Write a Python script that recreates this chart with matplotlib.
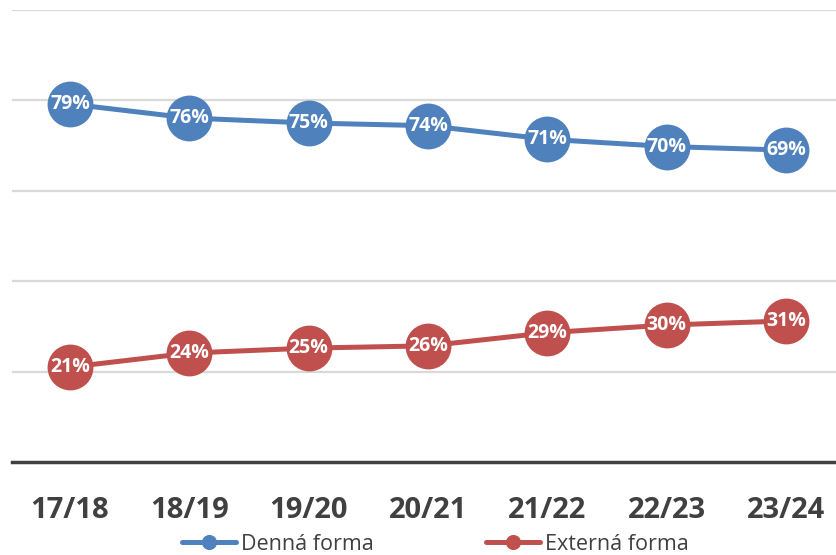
import matplotlib.pyplot as plt

plt.rcParams['font.family'] = ['Open Sans', 'DejaVu Sans']

YEARS = ['17/18', '18/19', '19/20', '20/21', '21/22', '22/23', '23/24']
DENNA = [79.2, 76.1, 75.0, 74.4, 71.4, 69.8, 69.0]
DENNA_LABELS = ['79%', '76%', '75%', '74%', '71%', '70%', '69%']
EXTERNA = [21.0, 24.1, 25.2, 25.7, 28.6, 30.3, 31.2]
EXTERNA_LABELS = ['21%', '24%', '25%', '26%', '29%', '30%', '31%']

BLUE = '#4F81BD'
RED = '#C0504D'
W, H = 837, 555

fig = plt.figure(figsize=(W / 100, H / 100), dpi=100)
ax = fig.add_axes([12 / W, (H - 462) / H, (W - 12) / W, 452 / H])

x = list(range(len(YEARS)))
for vals, labels, col, name in [(DENNA, DENNA_LABELS, BLUE, 'Denná forma'),
                                (EXTERNA, EXTERNA_LABELS, RED, 'Externá forma')]:
    ax.plot(x, vals, color=col, linewidth=3.6, marker='o', markersize=33,
            markeredgewidth=0, label=name, zorder=3, solid_capstyle='round')
    for xi, yi, lbl in zip(x, vals, labels):
        ax.text(xi, yi, lbl, ha='center', va='center', color='white',
                fontsize=14, fontweight='bold', zorder=4)

ax.set_xlim(-0.486, 6.427)
ax.set_ylim(0, 100)
ax.set_yticks([20, 40, 60, 80, 100])
ax.yaxis.grid(True, color='#D9D9D9', linewidth=1.6)
ax.set_axisbelow(True)
ax.tick_params(axis='y', left=False, labelleft=False)
ax.tick_params(axis='x', bottom=False, pad=21)
ax.set_xticks(x)
ax.set_xticklabels(YEARS, fontsize=21, fontweight='bold', color='#404040')
for s in ['top', 'right', 'left']:
    ax.spines[s].set_visible(False)
ax.spines['bottom'].set_color('#404040')
ax.spines['bottom'].set_linewidth(2.5)

handles, labels = ax.get_legend_handles_labels()
leg = fig.legend(handles, labels, loc='center', bbox_to_anchor=(0.52, (H - 544) / H),
                 ncol=2, frameon=False, fontsize=15.5, handlelength=2.5,
                 columnspacing=5.2, handletextpad=0.25, markerscale=0.33,
                 labelcolor='#404040')

fig.savefig('out.png', dpi=100)
